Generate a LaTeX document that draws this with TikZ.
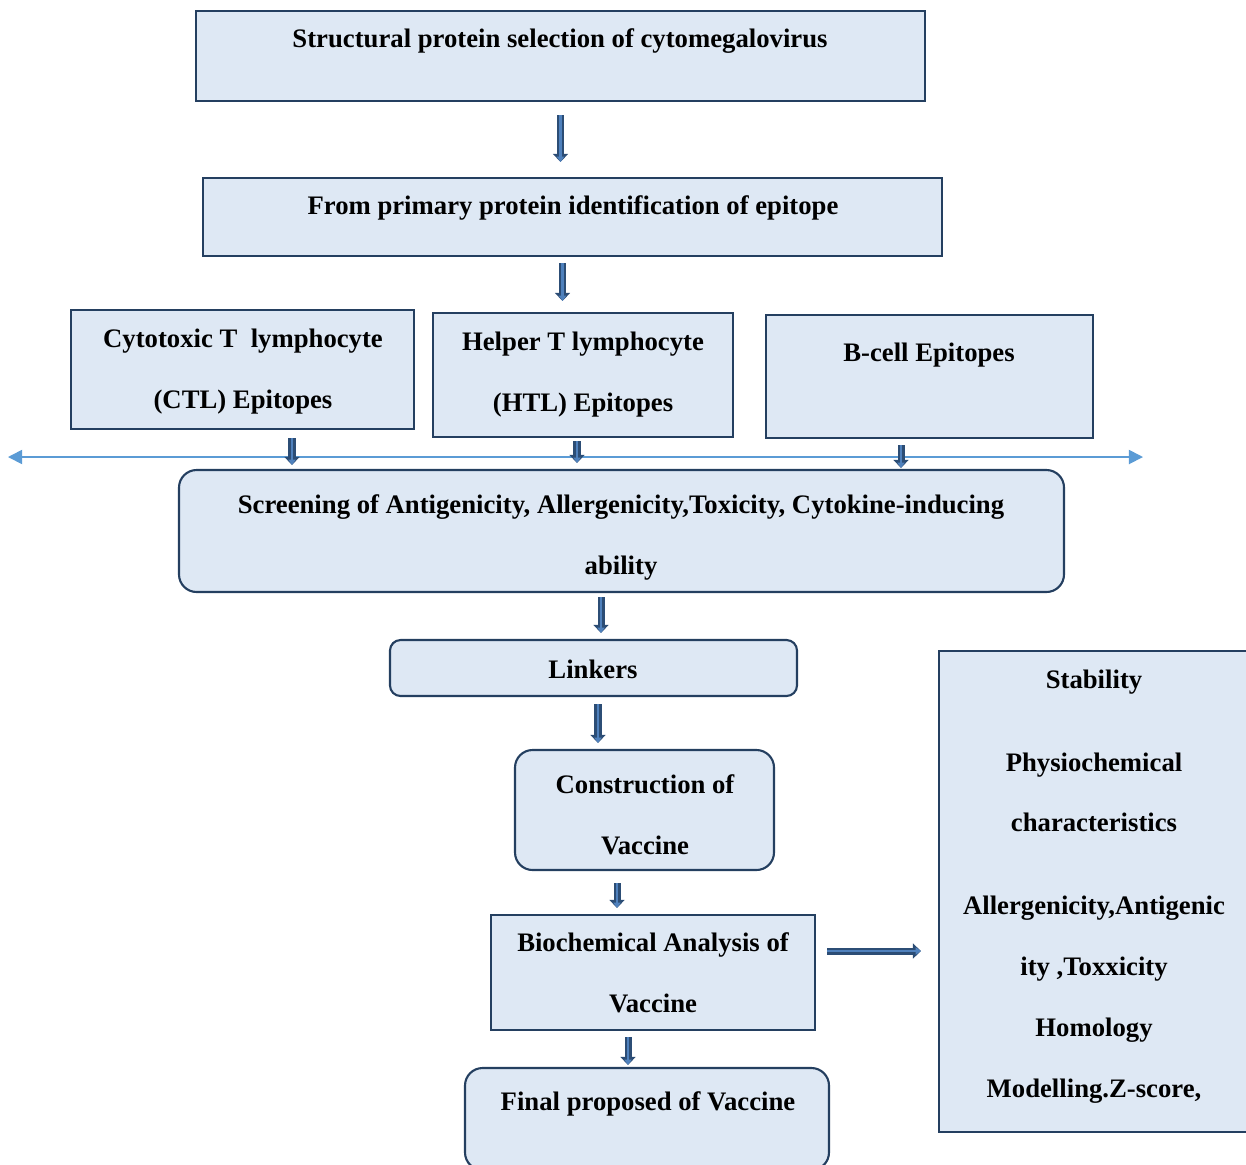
\documentclass[tikz,border=0pt]{standalone}
\usepackage{fontspec}
\setmainfont{Liberation Serif}
\usetikzlibrary{fit,arrows.meta}
\definecolor{boxfill}{HTML}{DEE8F4}
\definecolor{boxline}{HTML}{243F60}
\definecolor{arrfill}{HTML}{4F81BD}
\definecolor{arrline}{HTML}{2C4D75}
\definecolor{rulecol}{HTML}{5B9BD5}
\tikzset{
  box/.style={draw=boxline, fill=boxfill, line width=1.2pt, inner sep=0pt},
  rbox/.style={box, rounded corners=10pt},
  lbl/.style={font=\bfseries\fontsize{15.2pt}{34.6pt}\selectfont, align=center, anchor=base, inner sep=0pt},
  down/.style={draw=arrfill, line width=1.6pt, -{Triangle[length=3pt,width=4pt]},
    preaction={draw=arrline, line width=4pt, -{Triangle[length=4.6pt,width=8.5pt]}}}
}
\begin{document}
\begin{tikzpicture}[x=0.02cm,y=-0.02cm]
  \useasboundingbox (0,0) rectangle (1246,1164);
  % boxes
  \node[box, fit={(196,11) (925,101)}] (top) {};
  \node[box, fit={(203,178) (942,256)}] (prim) {};
  \node[box, fit={(71,310) (414,429)}] (ctl) {};
  \node[box, fit={(433,313) (733,437)}] (htl) {};
  \node[box, fit={(766,315) (1093,438)}] (bcell) {};
  \node[rbox, fit={(179,470) (1064,592)}] (screen) {};
  \node[rbox, rounded corners=6pt, fit={(390,640) (797,696)}] (link) {};
  \node[rbox, fit={(515,750) (774,870)}] (constr) {};
  \node[box, fit={(491,915) (815,1030)}] (bio) {};
  \node[rbox, fit={(465,1068) (829,1170)}] (final) {};
  \node[box, fit={(939,651) (1252,1132)}] (prop) {};
  % texts (base = last line)
  \node[lbl] (ttop) at (560,47) {Structural protein selection of cytomegalovirus};
  \node[lbl] (tprim) at (573,214) {From primary protein identification of epitope};
  \node[lbl] (tctl) at (243,408) {Cytotoxic T\ \ lymphocyte\\(CTL) Epitopes};
  \node[lbl] (thtl) at (583,411) {Helper T lymphocyte\\(HTL) Epitopes};
  \node[lbl] (tbcell) at (929,361) {B-cell Epitopes};
  \node[lbl] (tscreen) at (621,574) {Screening of Antigenicity, Allergenicity,Toxicity, Cytokine-inducing\\ability};
  \node[lbl] (tlink) at (593,678) {Linkers};
  \node[lbl] (tconstr) at (645,854) {Construction of\\Vaccine};
  \node[lbl] (tbio) at (653,1012) {Biochemical Analysis of\\Vaccine};
  \node[lbl] (tfinal) at (648,1110) {Final proposed of Vaccine};
  \node[lbl] (tprop) at (1094,1097) {Stability\\[12.5pt]Physiochemical\\characteristics\\[12.5pt]Allergenicity,Antigenic\\ity ,Toxxicity\\Homology\\Modelling.Z-score,};
  % horizontal rule
  \coordinate (hl) at (8,457);
  \coordinate (hr) at (1143,457);
  \draw[rulecol, line width=1pt, {Triangle[length=8pt,width=8pt]}-{Triangle[length=8pt,width=8pt]}] (hl) -- (hr);
  % arrows
  \draw[down, shorten <=0.26cm, shorten >=0.3cm] (top.south) -- (top.south |- prim.north);
  \draw[down, shorten <=0.12cm, shorten >=0.22cm] ([xshift=-0.2cm]prim.south) -- ([xshift=-0.2cm]prim.south |- htl.north);
  \draw[down, shorten <=0.16cm, shorten >=0.08cm] ([xshift=0.99cm]ctl.south) -- ([xshift=0.99cm]ctl.south |- screen.north);
  \draw[down, shorten <=0.06cm, shorten >=0.12cm] ([xshift=-0.12cm]htl.south) -- ([xshift=-0.12cm]htl.south |- screen.north);
  \draw[down, shorten <=0.12cm, shorten >=0.02cm] ([xshift=-0.57cm]bcell.south) -- ([xshift=-0.57cm]bcell.south |- screen.north);
  \draw[down, shorten <=0.08cm, shorten >=0.12cm] ([xshift=-0.41cm]screen.south) -- ([xshift=-0.41cm]screen.south |- link.north);
  \draw[down, shorten <=0.14cm, shorten >=0.12cm] ([xshift=0.09cm]link.south) -- ([xshift=0.09cm]link.south |- constr.north);
  \draw[down, shorten <=0.24cm, shorten >=0.12cm] ([xshift=-0.55cm]constr.south) -- ([xshift=-0.55cm]constr.south |- bio.north);
  \draw[down, shorten <=0.12cm, shorten >=0.04cm] ([xshift=-0.5cm]bio.south) -- ([xshift=-0.5cm]bio.south |- final.north);
  \draw[down, shorten <=0.22cm, shorten >=0.34cm] ([yshift=0.43cm]bio.east) -- ([yshift=0.43cm]bio.east -| prop.west);
\end{tikzpicture}
\end{document}
